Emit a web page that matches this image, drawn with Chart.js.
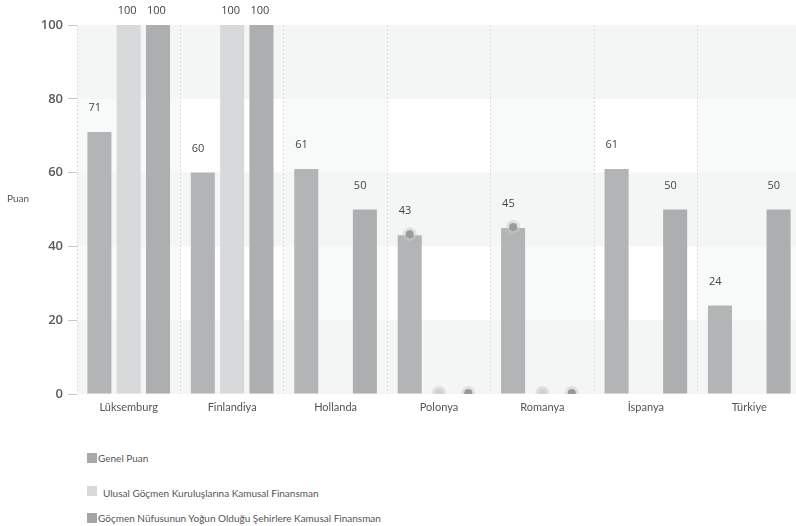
<!DOCTYPE html>
<html>
<head>
<meta charset="utf-8">
<script src="https://cdn.jsdelivr.net/npm/chart.js@4"></script>
<style>
  html, body { margin: 0; padding: 0; background: #fff; overflow: hidden; }
  #wrap { position: relative; width: 796px; height: 526px; overflow: hidden; }
  #myChart { position: absolute; left: 0; top: 0; }
  .legend { position: absolute; left: 87px; top: 0; font-family: Lato, sans-serif; font-size: 10px; color: #555; }
  .legend-item { position: absolute; left: 0; white-space: nowrap; display: flex; align-items: center; }
  .legend-box { width: 10px; height: 10px; margin-right: 2px; }
</style>
</head>
<body>
<div id="wrap">
  <canvas id="myChart" width="805" height="420"></canvas>
  <div class="legend" id="legend"></div>
</div>
<script>
const categories = ['Lüksemburg', 'Finlandiya', 'Hollanda', 'Polonya', 'Romanya', 'İspanya', 'Türkiye'];
const genelPuan = [71, 60, 61, 43, 45, 61, 24];
const ulusalFinansman = [100, 100, null, 0, 0, null, null];
const sehirFinansman = [100, 100, 50, 0, 0, 50, 50];
const yTicks = [0, 20, 40, 60, 80, 100];
const markedCategories = ['Polonya', 'Romanya'];

// background bands: grey everywhere, lighter rows 20-40 and 60-80, white in every other column
const bandsPlugin = {
  id: 'bands',
  beforeDraw(chart) {
    const { ctx, chartArea, scales } = chart;
    const y = scales.y;
    ctx.save();
    ctx.fillStyle = '#f4f5f5';
    ctx.fillRect(chartArea.left, chartArea.top, chartArea.right - chartArea.left, chartArea.bottom - chartArea.top);
    const colW = (chartArea.right - chartArea.left) / categories.length;
    [[20, 40], [60, 80]].forEach(([lo, hi]) => {
      const top = y.getPixelForValue(hi), bottom = y.getPixelForValue(lo);
      categories.forEach((c, i) => {
        ctx.fillStyle = i % 2 === 1 ? '#ffffff' : '#f8f9f9';
        ctx.fillRect(chartArea.left + i * colW, top, colW, bottom - top);
      });
    });
    ctx.restore();
  }
};

// highlighted points on some bars + value labels
const labelsPlugin = {
  id: 'valueLabels',
  afterDatasetsDraw(chart) {
    const { ctx, chartArea } = chart;
    ctx.save();
    ctx.beginPath();
    ctx.rect(chartArea.left, chartArea.top - 30, chartArea.right - chartArea.left, chartArea.bottom - chartArea.top + 30);
    ctx.clip();
    chart.data.datasets.forEach((ds, di) => {
      const meta = chart.getDatasetMeta(di);
      meta.data.forEach((bar, i) => {
        const v = ds.data[i];
        if (v === null || v === undefined) return;
        if (markedCategories.includes(categories[i])) {
          ctx.fillStyle = 'rgba(200,200,200,0.45)';
          ctx.beginPath();
          ctx.arc(bar.x, bar.y - 1, 7, 0, Math.PI * 2);
          ctx.fill();
          ctx.fillStyle = ds.dotColor;
          ctx.beginPath();
          ctx.arc(bar.x, bar.y - 1, 4, 0, Math.PI * 2);
          ctx.fill();
        }
      });
    });
    ctx.restore();

    ctx.save();
    ctx.font = '11px "Open Sans", sans-serif';
    ctx.fillStyle = '#444';
    ctx.textAlign = 'left';
    ctx.textBaseline = 'middle';
    chart.data.datasets.forEach((ds, di) => {
      const meta = chart.getDatasetMeta(di);
      meta.data.forEach((bar, i) => {
        const v = ds.data[i];
        if (!v) return;
        const left = bar.x - bar.width / 2;
        ctx.fillText(String(v), left + 1, Math.max(bar.y - 24, 11));
      });
    });
    ctx.font = '10px Lato, sans-serif';
    ctx.fillStyle = '#555';
    ctx.fillText('Puan', 7, 199);
    ctx.restore();
  }
};

const ctx = document.getElementById('myChart');

const chart = new Chart(ctx, {
  type: 'bar',
  data: {
    labels: categories,
    datasets: [{
      label: 'Genel Puan',
      data: genelPuan,
      backgroundColor: '#b3b4b6',
      legendColor: '#a9a9a9',
      dotColor: '#9a9b9d'
    }, {
      label: 'Ulusal Göçmen Kuruluşlarına Kamusal Finansman',
      data: ulusalFinansman,
      backgroundColor: '#d8d9db',
      legendColor: '#d9d9d9',
      dotColor: '#d0d1d3'
    }, {
      label: 'Göçmen Nüfusunun Yoğun Olduğu Şehirlere Kamusal Finansman',
      data: sehirFinansman,
      backgroundColor: '#adaeb0',
      legendColor: '#a5a5a5',
      dotColor: '#98999b'
    }]
  },
  options: {
    responsive: false,
    animation: false,
    categoryPercentage: 0.85,
    barPercentage: 0.82,
    layout: { padding: { top: 25, right: 4, bottom: 0, left: 0 } },
    plugins: {
      legend: { display: false },
      tooltip: { enabled: false }
    },
    scales: {
      x: {
        afterFit(scale) { scale.height = 26; },
        border: { display: false, dash: [2, 2] },
        grid: {
          offset: true,
          drawTicks: false,
          color: '#dcdcdc',
          lineWidth: 1
        },
        ticks: {
          padding: 7,
          color: '#555',
          font: { family: 'Lato', size: 11 }
        }
      },
      y: {
        min: 0,
        max: 100,
        afterFit(scale) { scale.width = 77; },
        afterBuildTicks(scale) { scale.ticks = yTicks.map(v => ({ value: v })); },
        border: { display: false },
        grid: {
          drawOnChartArea: false,
          drawTicks: true,
          tickLength: 9,
          color: '#c8c8c8'
        },
        ticks: {
          padding: 5,
          color: '#5a5a5a',
          font: { family: 'Open Sans', size: 13, weight: '600' }
        }
      }
    }
  },
  plugins: [bandsPlugin, labelsPlugin]
});

// html legend, stacked vertically
const legendEl = document.getElementById('legend');
const legendTops = [452, 482, 512];
const legendIndent = [0, 5, 0];
chart.data.datasets.forEach((ds, i) => {
  const item = document.createElement('div');
  item.className = 'legend-item';
  item.style.top = legendTops[i] + 'px';
  const box = document.createElement('span');
  box.className = 'legend-box';
  box.style.background = ds.legendColor;
  box.style.marginRight = (1 + legendIndent[i]) + 'px';
  const txt = document.createElement('span');
  txt.textContent = ds.label;
  if (i === 1) txt.style.marginTop = '5px';
  item.appendChild(box);
  item.appendChild(txt);
  legendEl.appendChild(item);
});
</script>
</body>
</html>
